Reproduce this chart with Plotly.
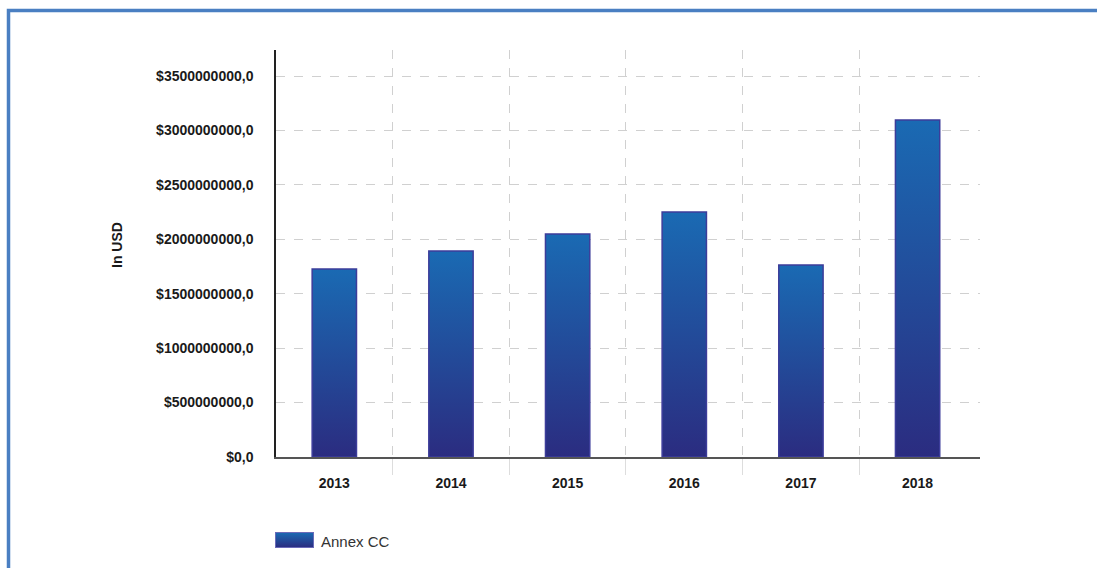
import base64
import plotly.graph_objects as go

# ---- data ----
years = ["2013", "2014", "2015", "2016", "2017", "2018"]
annex_cc = [1.727e9, 1.892e9, 2.049e9, 2.251e9, 1.764e9, 3.096e9]
y_tick_values = [0, 0.5e9, 1.0e9, 1.5e9, 2.0e9, 2.5e9, 3.0e9, 3.5e9]
y_tick_labels = ["$%d,0" % v for v in y_tick_values]
series_name = "Annex CC"

# ---- style ----
TOP_BLUE = "#1A6AB3"
BOTTOM_BLUE = "#2B2C80"
OUTLINE = "#3C3C9A"
BAR_WIDTH = 0.38
FONT = "Liberation Sans, Arial, sans-serif"

fig = go.Figure()
for i, (yr, v) in enumerate(zip(years, annex_cc)):
    x0, x1 = i - BAR_WIDTH / 2, i + BAR_WIDTH / 2
    fig.add_trace(go.Scatter(
        x=[x0, x0, x1, x1, x0],
        y=[0, v, v, 0, 0],
        mode="lines",
        fill="toself",
        fillgradient=dict(type="vertical",
                          colorscale=[[0, BOTTOM_BLUE], [1, TOP_BLUE]]),
        line=dict(color=OUTLINE, width=1.5),
        name=series_name,
        legendgroup=series_name,
        showlegend=False,
        hoveron="fills",
        text="%s: $%s" % (yr, format(int(v), ",")),
        hoverinfo="text",
    ))

L, R, T, B = 276, 117, 50, 111
W, H = 1097, 568
pw = W - L - R
ph = H - T - B

def px_x(p):
    return (p - L) / pw

def px_y(p):
    return (H - B - p) / ph

# legend swatch (gradient image) + label
svg = ('<svg xmlns="http://www.w3.org/2000/svg" width="40" height="16">'
       '<defs><linearGradient id="g" x1="0" y1="0" x2="0" y2="1">'
       '<stop offset="0" stop-color="%s"/><stop offset="1" stop-color="%s"/>'
       '</linearGradient></defs>'
       '<rect x="0.5" y="0.5" width="39" height="15" fill="url(#g)" stroke="#6a6ab8" stroke-width="1"/>'
       '</svg>') % (TOP_BLUE, BOTTOM_BLUE)
src = "data:image/svg+xml;base64," + base64.b64encode(svg.encode()).decode()

fig.update_layout(
    width=W, height=H,
    margin=dict(l=L, r=R, t=T, b=B),
    paper_bgcolor="white",
    plot_bgcolor="white",
    showlegend=False,
    font=dict(family=FONT, color="#1a1a1a"),
    xaxis=dict(
        range=[-0.5, 5.535],
        tickmode="array",
        tickvals=list(range(len(years))),
        ticktext=years,
        showgrid=False,
        zeroline=False,
        showline=True,
        linecolor="#555555",
        linewidth=2,
        ticks="",
        ticklabelstandoff=12,
        tickfont=dict(family=FONT, size=14, weight="bold", color="#1a1a1a"),
        minor=dict(
            tickmode="array",
            tickvals=[i + 0.5 for i in range(len(years) - 1)],
            showgrid=True,
            gridcolor="#d0d0d0",
            gridwidth=1,
            griddash="dash",
            ticks="outside",
            ticklen=16,
            tickcolor="#dddddd",
            tickwidth=1,
        ),
        fixedrange=True,
    ),
    yaxis=dict(
        range=[0, 3.74e9],
        tickmode="array",
        tickvals=y_tick_values,
        ticktext=y_tick_labels,
        showgrid=True,
        gridcolor="#d0d0d0",
        gridwidth=1,
        griddash="dash",
        zeroline=False,
        showline=True,
        linecolor="#222222",
        linewidth=1.5,
        ticks="",
        ticklabelstandoff=18,
        tickfont=dict(family=FONT, size=14, weight="bold", color="#1a1a1a"),
        fixedrange=True,
    ),
    annotations=[
        dict(text="In USD", textangle=-90, xref="paper", yref="paper",
             x=px_x(117), y=px_y(245), xanchor="center", yanchor="middle",
             showarrow=False,
             font=dict(family=FONT, size=14, weight="bold", color="#1a1a1a")),
        dict(text=series_name, xref="paper", yref="paper",
             x=px_x(319), y=px_y(541), xanchor="left", yanchor="middle",
             showarrow=False,
             font=dict(family=FONT, size=15, color="#333333")),
    ],
    images=[
        dict(source=src, xref="paper", yref="paper",
             x=px_x(275), y=px_y(532), sizex=39 / pw, sizey=16 / ph,
             xanchor="left", yanchor="top", sizing="stretch", layer="above"),
    ],
    shapes=[
        dict(type="rect", xref="paper", yref="paper",
             x0=px_x(8.5), x1=px_x(1130), y0=px_y(600), y1=px_y(10.5),
             line=dict(color="#4A7FC2", width=3.5), fillcolor="rgba(0,0,0,0)",
             layer="above"),
    ],
)

fig.write_html(
    "out.html",
    config={"displayModeBar": False},
    post_script="document.body.style.margin='0';document.body.style.overflow='hidden';",
)
